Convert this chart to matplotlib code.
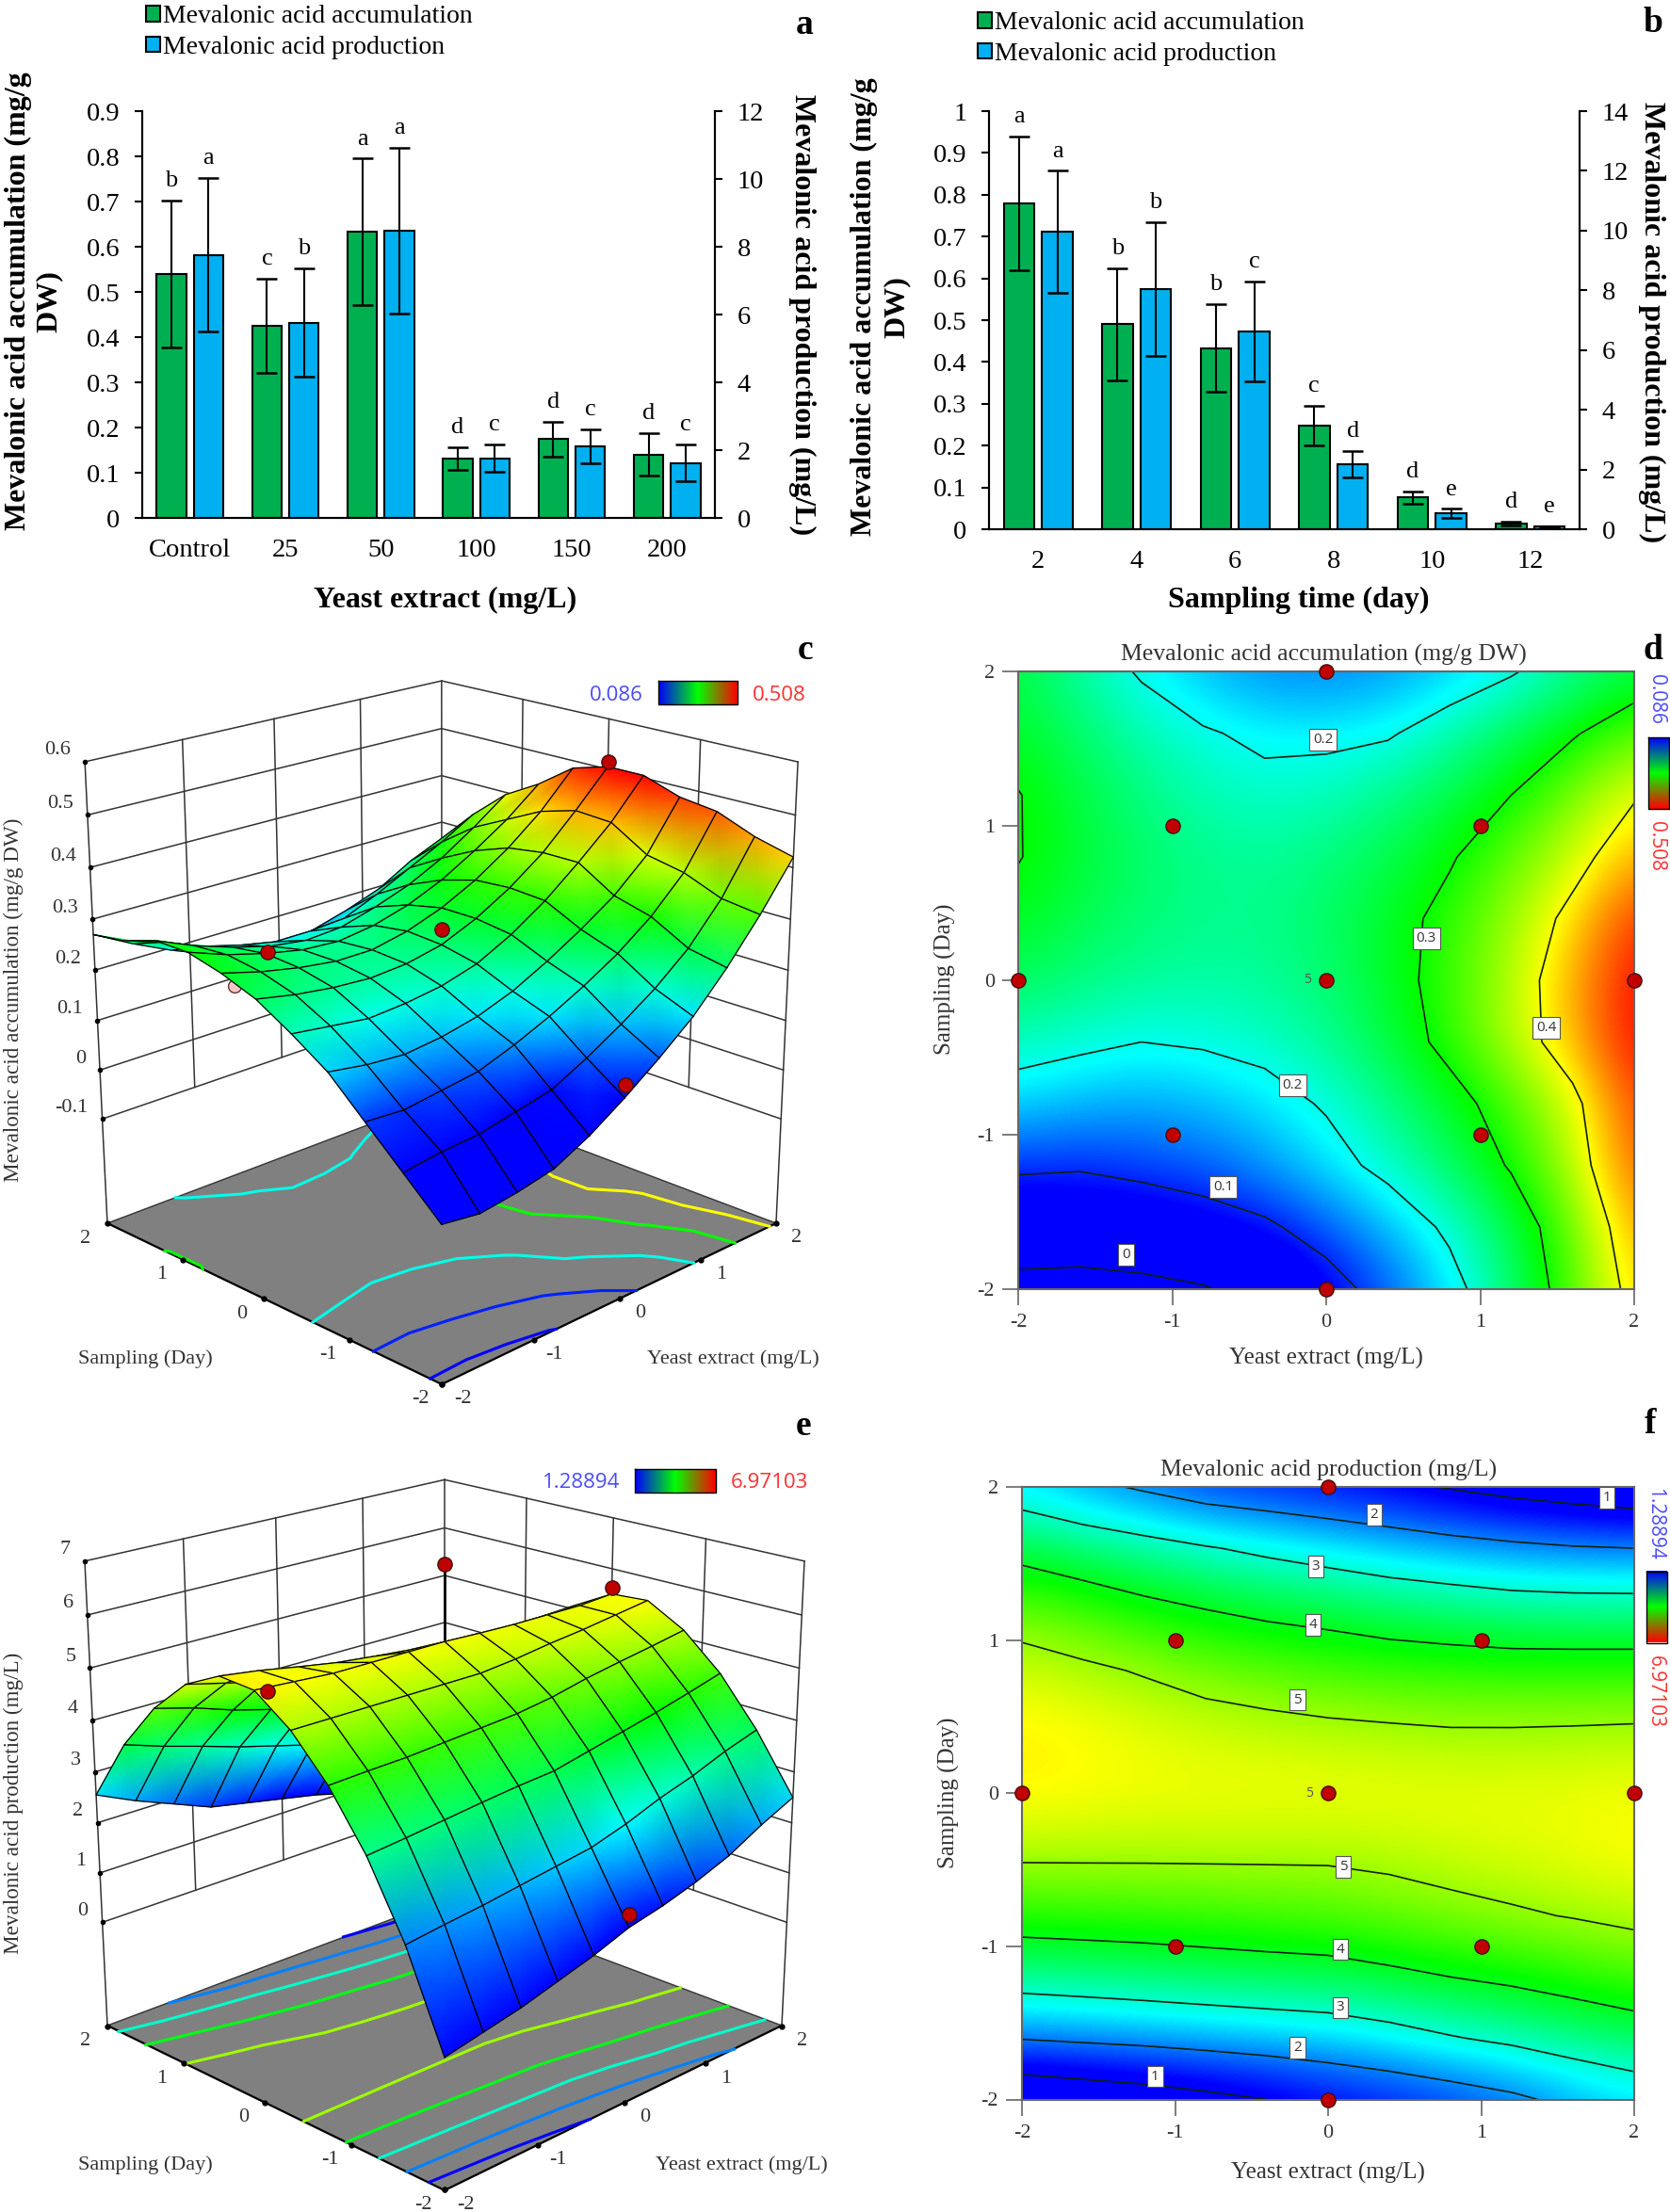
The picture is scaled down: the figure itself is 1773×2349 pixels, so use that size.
import numpy as np
import matplotlib
matplotlib.use("Agg")
import matplotlib.pyplot as plt
from matplotlib.colors import LinearSegmentedColormap, Normalize
from contourpy import contour_generator

plt.rcParams['font.family'] = ['Liberation Serif', 'DejaVu Serif']
plt.rcParams['axes.unicode_minus'] = False

W, H = 1773, 2349
GREEN = "#00B050"
BLUE = "#00B0F0"
LEG1 = "Mevalonic acid accumulation"
LEG2 = "Mevalonic acid production"

# bar panel a
yeast_labels = ["Control", "25", "50", "100", "150", "200"]
yeast_acc = [0.54, 0.425, 0.633, 0.132, 0.174, 0.14]
yeast_acc_err = [0.162, 0.104, 0.162, 0.025, 0.038, 0.047]
yeast_acc_let = ["b", "c", "a", "d", "d", "d"]
yeast_prod = [7.76, 5.76, 8.47, 1.76, 2.12, 1.62]
yeast_prod_err = [2.27, 1.6, 2.44, 0.4, 0.5, 0.54]
yeast_prod_let = ["a", "b", "a", "c", "c", "c"]

# bar panel b
day_labels = ["2", "4", "6", "8", "10", "12"]
day_acc = [0.78, 0.49, 0.433, 0.248, 0.076, 0.013]
day_acc_err = [0.16, 0.135, 0.105, 0.048, 0.015, 0.005]
day_acc_let = ["a", "b", "b", "c", "d", "d"]
day_prod = [9.95, 8.04, 6.63, 2.18, 0.53, 0.09]
day_prod_err = [2.05, 2.25, 1.67, 0.44, 0.15, 0.02]
day_prod_let = ["a", "b", "c", "d", "e", "e"]

# response surfaces (rows y=-2..2, columns x=-2..2)
grid_x = [-2, -1.6, -1.2, -0.8, -0.4, 0, 0.4, 0.8, 1.2, 1.6, 2]
grid_y = [-2, -1.6, -1.2, -0.8, -0.4, 0, 0.4, 0.8, 1.2, 1.6, 2]
acc_z = [
    [-.02, -.03, -.02, -.005, .03, .075, .125, .18, .25, .33, .42],
    [.045, .055, .06, .075, .09, .125, .165, .21, .265, .34, .44],
    [.11, .105, .115, .125, .15, .18, .215, .255, .305, .37, .47],
    [.175, .163, .157, .165, .18, .205, .24, .28, .325, .385, .48],
    [.22, .21, .20, .205, .215, .235, .27, .315, .37, .43, .505],
    [.26, .245, .235, .23, .235, .25, .28, .32, .37, .435, .505],
    [.285, .265, .25, .24, .24, .255, .28, .315, .36, .415, .485],
    [.302, .275, .255, .24, .235, .245, .265, .295, .335, .38, .435],
    [.302, .27, .245, .225, .215, .22, .24, .265, .30, .345, .395],
    [.28, .255, .225, .205, .19, .19, .195, .225, .26, .295, .335],
    [.27, .23, .195, .165, .145, .14, .15, .17, .195, .235, .265],
]
prod_z = [
    [.3, .45, .6, .8, 1.0, 1.25, 1.4, 1.6, 1.85, 2.2, 2.5],
    [2.03, 2.12, 2.2, 2.3, 2.4, 2.5, 2.7, 2.95, 3.15, 3.4, 3.6],
    [3.35, 3.42, 3.5, 3.58, 3.65, 3.7, 3.85, 4.0, 4.15, 4.32, 4.5],
    [4.35, 4.38, 4.4, 4.45, 4.5, 4.55, 4.65, 4.8, 4.92, 5.03, 5.15],
    [5.1, 5.1, 5.1, 5.1, 5.1, 5.1, 5.17, 5.27, 5.35, 5.45, 5.55],
    [5.6, 5.55, 5.5, 5.5, 5.5, 5.5, 5.47, 5.45, 5.45, 5.45, 5.5],
    [5.65, 5.55, 5.42, 5.3, 5.22, 5.15, 5.1, 5.05, 5.05, 5.07, 5.1],
    [5.3, 5.12, 4.95, 4.75, 4.62, 4.5, 4.42, 4.37, 4.35, 4.35, 4.35],
    [4.65, 4.45, 4.2, 4.0, 3.85, 3.75, 3.6, 3.5, 3.38, 3.35, 3.35],
    [3.75, 3.5, 3.28, 3.05, 2.85, 2.65, 2.45, 2.28, 2.15, 2.05, 2.0],
    [2.55, 2.2, 1.9, 1.6, 1.45, 1.3, 1.15, .95, .75, .6, .45],
]
design_x = [-1, 1, -1, 1, 0, 0, -2, 2, 0]
design_y = [-1, -1, 1, 1, -2, 2, 0, 0, 0]

acc_levels = [0, 0.1, 0.2, 0.3, 0.4]
acc_lab_text = ["0.2", "0.3", "0.4", "0.2", "0.1", "0"]
acc_lab_x = [-0.02, 0.65, 1.43, -0.22, -0.67, -1.3]
acc_lab_y = [1.56, 0.27, -0.31, -0.68, -1.34, -1.78]
acc_range = [0.086, 0.508]
acc_z_ticks = [-0.1, 0, 0.1, 0.2, 0.3, 0.4, 0.5, 0.6]

prod_levels = [1, 2, 3, 4, 5]
prod_lab_text = ["1", "2", "3", "4", "5", "5", "4", "3", "2", "1"]
prod_lab_x = [1.82, 0.3, -0.08, -0.1, -0.2, 0.1, 0.08, 0.08, -0.2, -1.13]
prod_lab_y = [1.93, 1.82, 1.48, 1.1, 0.61, -0.48, -1.02, -1.4, -1.66, -1.85]
prod_range = [1.28894, 6.97103]
prod_z_ticks = [0, 1, 2, 3, 4, 5, 6, 7]

# points seen off the surface in the 3D panels: x, y, z
acc_pts = [(2, 0, 0.515), (0, 0, 0.28), (-1, 1, 0.235), (0, -2, 0.1)]
acc_pale = [(-2, 0.25, 0.27)]
prod_pts = [(0, 0, 6.95), (2, 0, 5.62), (-1, 1, 4.55), (0, -2, 1.5)]
prod_pale = [(-2, -0.1, 5.25)]

surf_cmap = LinearSegmentedColormap.from_list("rsm", ["#0000FF", "#00FFFF", "#00FF00", "#FFFF00", "#FF0000"])
bar_cmap = LinearSegmentedColormap.from_list("rsmbar", ["#0000FF", "#00FF00", "#FF0000"])

fig = plt.figure(figsize=(W / 100, H / 100), dpi=100)


def px_axes(l, t, r, b):
    return fig.add_axes([l / W, 1 - b / H, (r - l) / W, (b - t) / H])


# full figure overlay working in pixels
ov = fig.add_axes([0, 0, 1, 1], zorder=5)
ov.set_xlim(0, W)
ov.set_ylim(H, 0)
ov.axis('off')
ov.patch.set_alpha(0)
ov.autoscale(False)


def bar_panel(rect, cats, v1, e1, l1, v2, e2, l2, ymax1, yticks1, ymax2, yticks2, off, width, ypad):
    ax1 = px_axes(*rect)
    ax2 = ax1.twinx()
    pos = np.arange(6) + 0.5
    b1 = ax1.bar(pos - off, v1, width, color=GREEN, edgecolor='k', linewidth=1.5)
    b2 = ax2.bar(pos + off, v2, width, color=BLUE, edgecolor='k', linewidth=1.5)
    ax1.errorbar(pos - off, v1, yerr=e1, fmt='none', ecolor='k', elinewidth=1.5, capsize=8, capthick=1.8)
    ax2.errorbar(pos + off, v2, yerr=e2, fmt='none', ecolor='k', elinewidth=1.5, capsize=8, capthick=1.8)
    for i in range(6):
        ax1.annotate(l1[i], (pos[i] - off, v1[i] + e1[i]), xytext=(0, 15), textcoords='offset points',
                     ha='center', va='center', fontsize=19)
        ax2.annotate(l2[i], (pos[i] + off, v2[i] + e2[i]), xytext=(0, 15), textcoords='offset points',
                     ha='center', va='center', fontsize=19)
    ax1.set_xlim(0, 6)
    ax1.set_ylim(0, ymax1)
    ax2.set_ylim(0, ymax2)
    ax1.set_yticks(yticks1)
    ax1.set_yticklabels(["%g" % t for t in yticks1])
    ax2.set_yticks(yticks2)
    ax2.set_yticklabels(["%g" % t for t in yticks2])
    ax1.set_xticks(pos)
    ax1.set_xticklabels(cats)
    ax1.tick_params(axis='x', length=0, pad=ypad, labelsize=20.5)
    ax1.tick_params(axis='y', length=6, width=1.5, labelsize=20.5, pad=11)
    ax2.tick_params(axis='y', length=6, width=1.5, labelsize=20.5, pad=11)
    for a in (ax1, ax2):
        a.spines['top'].set_visible(False)
        a.patch.set_alpha(0)
        for s in ('left', 'right', 'bottom'):
            a.spines[s].set_linewidth(1.5)
    return b1, b2


def leg(handles, x, y):
    fig.legend(handles, [LEG1, LEG2], loc='upper left', bbox_to_anchor=(x / W, 1 - y / H), frameon=False,
               fontsize=20, handlelength=0.55, handleheight=0.55, handletextpad=0.1, labelspacing=0.28,
               borderpad=0, borderaxespad=0)


h = bar_panel((151, 118, 759, 550), yeast_labels, yeast_acc, yeast_acc_err, yeast_acc_let,
              yeast_prod, yeast_prod_err, yeast_prod_let, 0.9, [i / 10 for i in range(10)],
              12, [0, 2, 4, 6, 8, 10, 12], 0.193, 0.31, 16)
leg(h, 155, 5)
h = bar_panel((1050, 118, 1677, 562), day_labels, day_acc, day_acc_err, day_acc_let,
              day_prod, day_prod_err, day_prod_let, 1, [i / 10 for i in range(11)],
              14, [0, 2, 4, 6, 8, 10, 12, 14], 0.195, 0.31, 16)
leg(h, 1038, 12)

ov.text(36, 320, "Mevalonic acid accumulation (mg/g\nDW)", rotation=90, fontsize=23, fontweight='bold',
        ha='center', va='center', linespacing=1.15)
ov.text(852, 334, "Mevalonic acid production (mg/L)", rotation=270, fontsize=23, fontweight='bold',
        ha='center', va='center')
ov.text(473, 637, "Yeast extract (mg/L)", fontsize=23, fontweight='bold', ha='center', va='center')
ov.text(935, 326, "Mevalonic acid accumulation (mg/g\nDW)", rotation=90, fontsize=23, fontweight='bold',
        ha='center', va='center', linespacing=1.25)
ov.text(1754, 342, "Mevalonic acid production (mg/L)", rotation=270, fontsize=23, fontweight='bold',
        ha='center', va='center')
ov.text(1379, 637, "Sampling time (day)", fontsize=23, fontweight='bold', ha='center', va='center')

for let, lx, ly in [("a", 854, 26), ("b", 1755, 24), ("c", 855, 690), ("d", 1755, 690), ("e", 853, 1514), ("f", 1752, 1512)]:
    ov.text(lx, ly, let, fontsize=27, fontweight='bold', ha='center', va='center')


def fit_view(world, pix):
    # camera matrix from the box corners
    rows = []
    for (x, y, z), (u, v) in zip(world, pix):
        rows.append([x, y, z, 1, 0, 0, 0, 0, -u * x, -u * y, -u * z, -u])
        rows.append([0, 0, 0, 0, x, y, z, 1, -v * x, -v * y, -v * z, -v])
    return np.linalg.svd(np.array(rows, dtype=float))[2][-1].reshape(3, 4)


def proj(P, x, y, z):
    x, y, z = np.asarray(x, float), np.asarray(y, float), np.asarray(z, float)
    q = P @ np.array([x, y, z, np.ones_like(x)])
    return q[0] / q[2], q[1] / q[2]


def surface_panel(corners, zfloor, ztop, zticks, table, levels, vrange, pts, pale, cbar, cbtext, axis_title, title_y, yeast_x, stem):
    F, L, R, B, Lt, Rt, Bt = corners
    world = [(-2, -2, zfloor), (-2, 2, zfloor), (2, -2, zfloor), (2, 2, zfloor), (-2, 2, ztop), (2, -2, ztop), (2, 2, ztop)]
    P = fit_view(world, corners)
    norm = Normalize(vrange[0], vrange[1])
    Z = np.array(table)
    gx = np.array(grid_x, float)
    gy = np.array(grid_y, float)
    XX, YY = np.meshgrid(gx, gy)
    wall = dict(color='#333333', lw=1.1, zorder=1)

    # floor
    ov.fill([F[0], L[0], B[0], R[0]], [F[1], L[1], B[1], R[1]], color='#808080', zorder=2, lw=0)
    ov.plot([L[0], F[0], R[0]], [L[1], F[1], R[1]], color='k', lw=1.6, zorder=3)
    ov.plot([L[0], B[0], R[0]], [L[1], B[1], R[1]], color='#333333', lw=1, zorder=3)
    gen = contour_generator(gx, gy, Z)
    for lev in levels:
        for line in gen.lines(lev):
            u, v = proj(P, line[:, 0], line[:, 1], np.full(len(line), zfloor))
            ov.plot(u, v, color=surf_cmap(norm(lev)), lw=2.2, zorder=3)

    # back walls
    for zt in zticks:
        u, v = proj(P, [-2, 2, 2], [2, 2, -2], [zt, zt, zt])
        ov.plot(u, v, **wall)
    for t in [-1, 0, 1]:
        u, v = proj(P, [t, t], [2, 2], [zticks[0], ztop])
        ov.plot(u, v, **wall)
        u, v = proj(P, [2, 2], [t, t], [zticks[0], ztop])
        ov.plot(u, v, **wall)
    u, v = proj(P, [2, 2], [2, 2], [zfloor, ztop])
    ov.plot(u, v, **wall)
    for xe, ye in [(-2, 2), (2, -2)]:
        u, v = proj(P, [xe, xe], [ye, ye], [zfloor, ztop])
        ov.plot(u, v, color='#333333', lw=1.1, zorder=1)

    # ticks on the edges
    for zt in zticks:
        u, v = proj(P, -2, 2, zt)
        ov.plot(u, v, 'o', color='k', ms=3, zorder=3)
        ov.text(u - 15, v - 12, "%g" % zt, fontsize=16, color='#333333', ha='right', va='center')
    for t in [-2, -1, 0, 1, 2]:
        u, v = proj(P, -2, t, zfloor)
        ov.plot(u, v, 'o', color='k', ms=3.5, zorder=3)
        ov.text(u - 23, v + 16, "%g" % t, fontsize=16, color='#333333', ha='center', va='center')
        u, v = proj(P, t, -2, zfloor)
        ov.plot(u, v, 'o', color='k', ms=3.5, zorder=3)
        ov.text(u + 22, v + 16, "%g" % t, fontsize=16, color='#333333', ha='center', va='center')

    for p in pale:
        u, v = proj(P, *p)
        ov.plot(u, v, 'o', color='#F6C6C6', mec='#663333', ms=10, zorder=4)

    # surface, painted from the far corner to the near one
    U, V = proj(P, XX.ravel(), YY.ravel(), Z.ravel())
    U = U.reshape(Z.shape)
    V = V.reshape(Z.shape)
    n = Z.shape[0] - 1
    cells = sorted(((i, j) for i in range(n) for j in range(n)), key=lambda c: -(c[0] + c[1]))
    zo = 5
    for i, j in cells:
        ov.pcolormesh(U[i:i + 2, j:j + 2], V[i:i + 2, j:j + 2], np.clip(Z[i:i + 2, j:j + 2], vrange[0], vrange[1]),
                      shading='gouraud', cmap=surf_cmap, norm=norm, zorder=zo)
        ov.plot([U[i, j], U[i, j + 1], U[i + 1, j + 1], U[i + 1, j], U[i, j]],
                [V[i, j], V[i, j + 1], V[i + 1, j + 1], V[i + 1, j], V[i, j]], color='k', lw=0.9, zorder=zo + 0.5)
        zo += 1

    if stem:
        u, v = proj(P, [0, 0], [0, 0], [Z[5, 5], pts[0][2]])
        ov.plot(u, v, color='k', lw=2, zorder=4)
    for p in pts:
        u, v = proj(P, *p)
        ov.plot(u, v, 'o', color='#C00000', mec='#401010', mew=1, ms=11, zorder=zo + 1)

    # colour key
    ov.imshow(np.linspace(0, 1, 101).reshape(1, -1), extent=[cbar[0], cbar[2], cbar[3], cbar[1]], cmap=bar_cmap,
              aspect='auto', zorder=zo + 1)
    ov.plot([cbar[0], cbar[2], cbar[2], cbar[0], cbar[0]], [cbar[1], cbar[1], cbar[3], cbar[3], cbar[1]],
            color='k', lw=1, zorder=zo + 2)
    ov.set_xlim(0, W)
    ov.set_ylim(H, 0)
    ov.text(cbtext[0], cbtext[2], cbtext[3], family='Open Sans', fontsize=16, color='#4A4AFF', ha='center', va='center')
    ov.text(cbtext[1], cbtext[2], cbtext[4], family='Open Sans', fontsize=16, color='#FF3030', ha='center', va='center')

    ov.text(14, title_y, axis_title, rotation=90, fontsize=16.7, color='#333333', ha='center', va='center')
    ov.text(154, F[1] - 27, "Sampling (Day)", fontsize=16, color='#333333', ha='center', va='center')
    ov.text(yeast_x, F[1] - 27, "Yeast extract (mg/L)", fontsize=16, color='#333333', ha='center', va='center')


surface_panel([(469, 1470), (114, 1299), (824, 1299), (469, 1165), (90, 809), (847, 809), (469, 723)],
              -0.318, 0.6, acc_z_ticks, acc_z, acc_levels, acc_range, acc_pts, acc_pale,
              (699, 723, 783, 748), (654, 827, 739, "0.086", "0.508"),
              "Mevalonic acid accumulation (mg/g DW)", 1062, 778, False)
surface_panel([(472, 2326), (114, 2151), (830, 2151), (472, 2017), (90, 1658), (854, 1658), (472, 1571)],
              -2.15, 7, prod_z_ticks, prod_z, prod_levels, prod_range, prod_pts, prod_pale,
              (674, 1560, 760, 1585), (617, 817, 1575, "1.28894", "6.97103"),
              "Mevalonic acid production (mg/L)", 1915, 787, True)


def contour_panel(rect, table, levels, vrange, lab_text, lab_x, lab_y, title, tc, cbar, cbx, cby, cblabels, xl, yl):
    ax = px_axes(*rect)
    ax.imshow(np.array(table), extent=[-2.2, 2.2, -2.2, 2.2], origin='lower', cmap=surf_cmap,
              vmin=vrange[0], vmax=vrange[1], interpolation='bicubic', aspect='auto')
    ax.contour(grid_x, grid_y, table, levels=levels, colors='#102010', linewidths=1.2)
    ax.set_xlim(-2, 2)
    ax.set_ylim(-2, 2)
    ax.set_xticks([-2, -1, 0, 1, 2])
    ax.set_yticks([-2, -1, 0, 1, 2])
    ax.tick_params(axis='y', length=12, width=1.2, color='#666666', labelsize=16, labelcolor='#333333', pad=6)
    ax.tick_params(axis='x', length=12, width=1.2, color='#666666', labelsize=16, labelcolor='#333333', pad=7)
    for s in ax.spines.values():
        s.set_color('#666666')
        s.set_linewidth(1.5)
    for t, x, y in zip(lab_text, lab_x, lab_y):
        ax.text(x, y, t, family='Open Sans', fontsize=11, color='#333333', ha='center', va='center',
                bbox=dict(boxstyle='square,pad=0.25', fc='white', ec='#555555', lw=0.8))
    ax.plot(design_x, design_y, 'o', color='#C00000', mec='#401010', mew=1, ms=11, clip_on=False, zorder=6)
    ax.text(-0.12, 0, "5", family='Open Sans', fontsize=10, color='#555555', ha='center', va='center')
    ov.text(tc[0], tc[1], title, fontsize=18.5, color='#333333', ha='center', va='center')
    ov.text(xl[0], xl[1], "Yeast extract (mg/L)", fontsize=18, color='#333333', ha='center', va='center')
    ov.text(yl[0], yl[1], "Sampling (Day)", rotation=90, fontsize=18, color='#333333', ha='center', va='center')
    ov.imshow(np.linspace(0, 1, 101).reshape(-1, 1), extent=[cbar[0], cbar[2], cbar[3], cbar[1]], cmap=bar_cmap,
              aspect='auto', origin='upper', zorder=8)
    ov.plot([cbar[0], cbar[2], cbar[2], cbar[0], cbar[0]], [cbar[1], cbar[1], cbar[3], cbar[3], cbar[1]],
            color='k', lw=1, zorder=9)
    ov.set_xlim(0, W)
    ov.set_ylim(H, 0)
    ov.text(cbx, cby[0], cblabels[0], rotation=270, family='Open Sans', fontsize=15, color='#4A4AFF', ha='center', va='center')
    ov.text(cbx, cby[1], cblabels[1], rotation=270, family='Open Sans', fontsize=15, color='#FF3030', ha='center', va='center')


contour_panel((1081, 713.5, 1735, 1368.5), acc_z, acc_levels, acc_range, acc_lab_text, acc_lab_x, acc_lab_y,
              "Mevalonic acid accumulation (mg/g DW)", (1405, 695), (1749.5, 783, 1772, 859), 1758, (742, 899),
              ["0.086", "0.508"], (1408, 1442), (1003, 1040))
contour_panel((1085, 1579, 1735, 2229.5), prod_z, prod_levels, prod_range, prod_lab_text, prod_lab_x, prod_lab_y,
              "Mevalonic acid production (mg/L)", (1411, 1561), (1748, 1669, 1770, 1744.5), 1757, (1618, 1796),
              ["1.28894", "6.97103"], (1410, 2307), (1007, 1904))

fig.savefig("out.png", dpi=100)
